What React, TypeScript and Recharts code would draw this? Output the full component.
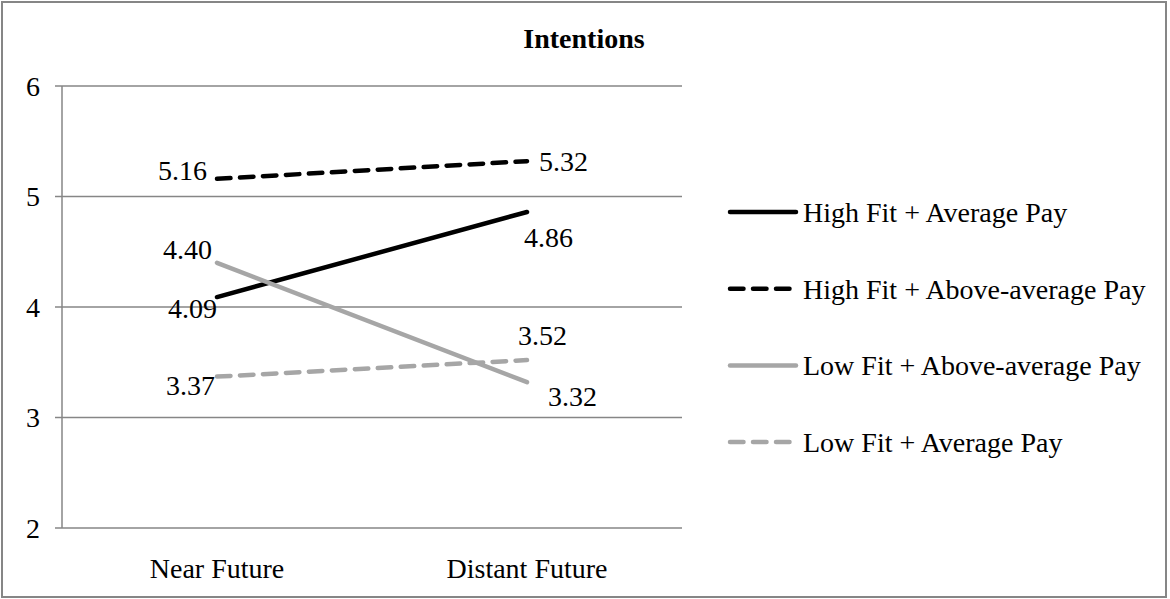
import React from "react";
import {
  LineChart,
  Line,
  XAxis,
  YAxis,
  CartesianGrid,
  Legend,
} from "recharts";

const periods = ["Near Future", "Distant Future"];
const highFitAveragePay = [4.09, 4.86];
const highFitAbovePay = [5.16, 5.32];
const lowFitAbovePay = [4.4, 3.32];
const lowFitAveragePay = [3.37, 3.52];
const yTicks = [2, 3, 4, 5, 6];
const edgeTicks = [0, 1, 2];

const FONT = "'Liberation Serif', 'Times New Roman', serif";
const GRID = "#868686";
const BLACK = "#000000";
const GREY = "#a6a6a6";
const DASH = "13.5 9.5";

type LabelPlace = { dx: number; dy: number; anchor: "start" | "end" };

const series: {
  key: string;
  name: string;
  values: number[];
  color: string;
  dash?: string;
  labels: LabelPlace[];
}[] = [
  {
    key: "highAvg",
    name: "High Fit + Average Pay",
    values: highFitAveragePay,
    color: BLACK,
    labels: [
      { dx: 0, dy: 21, anchor: "end" },
      { dx: -3, dy: 35, anchor: "start" },
    ],
  },
  {
    key: "highAbove",
    name: "High Fit + Above-average Pay",
    values: highFitAbovePay,
    color: BLACK,
    dash: DASH,
    labels: [
      { dx: -10, dy: 1, anchor: "end" },
      { dx: 12, dy: 10, anchor: "start" },
    ],
  },
  {
    key: "lowAbove",
    name: "Low Fit + Above-average Pay",
    values: lowFitAbovePay,
    color: GREY,
    labels: [
      { dx: -5, dy: -4, anchor: "end" },
      { dx: 21, dy: 24, anchor: "start" },
    ],
  },
  {
    key: "lowAvg",
    name: "Low Fit + Average Pay",
    values: lowFitAveragePay,
    color: GREY,
    dash: DASH,
    labels: [
      { dx: -2, dy: 18, anchor: "end" },
      { dx: -9, dy: -15, anchor: "start" },
    ],
  },
];

const data = periods.map((period, i) => {
  const row: Record<string, string | number> = { period };
  series.forEach((s) => (row[s.key] = s.values[i]));
  return row;
});

const makeLabel = (places: LabelPlace[]) => (props: any) => {
  const { x, y, value, index } = props;
  const p = places[index];
  if (p == null || value == null) return <g />;
  return (
    <text
      x={x + p.dx}
      y={y + p.dy}
      textAnchor={p.anchor}
      fontFamily={FONT}
      fontSize={28}
      fill="#000"
    >
      {Number(value).toFixed(2)}
    </text>
  );
};

const CategoryTick = (props: any) => {
  const { x, y, payload } = props;
  return (
    <text x={x} y={y + 42} textAnchor="middle" fontFamily={FONT} fontSize={28} fill="#000">
      {payload.value}
    </text>
  );
};

const NoTick = () => <g />;

const LegendBox = () => (
  <svg width={434} height={290} style={{ display: "block", overflow: "visible" }}>
    {series.map((s, i) => {
      const cy = 12 + i * 76.7;
      return (
        <g key={s.key}>
          <line
            x1={2}
            y1={cy}
            x2={68}
            y2={cy}
            stroke={s.color}
            strokeWidth={4.5}
            strokeDasharray={s.dash}
            strokeLinecap="round"
          />
          <text x={75} y={cy + 10} fontFamily={FONT} fontSize={28} fill="#000">
            {s.name}
          </text>
        </g>
      );
    })}
  </svg>
);

export default function App() {
  return (
    <div style={{ position: "absolute", left: 0, top: 0, width: 1170, height: 599, background: "#fff" }}>
      <LineChart
        width={1170}
        height={599}
        data={data}
        margin={{ top: 86, right: 488, bottom: 0, left: 0 }}
      >
        <CartesianGrid xAxisId="edge" vertical={false} stroke={GRID} strokeWidth={1.5} />
        <XAxis
          xAxisId="edge"
          type="number"
          domain={[0, 2]}
          ticks={edgeTicks}
          height={0}
          tickSize={6}
          tick={NoTick}
          stroke={GRID}
          strokeWidth={1.5}
        />
        <XAxis
          xAxisId="cat"
          dataKey="period"
          height={71}
          padding={{ left: 155, right: 155 }}
          axisLine={false}
          tickLine={false}
          tick={CategoryTick}
        />
        <YAxis
          domain={[2, 6]}
          ticks={yTicks}
          width={62}
          tickSize={7}
          tickMargin={15}
          stroke={GRID}
          strokeWidth={1.5}
          tick={{ fill: "#000", fontSize: 28, fontFamily: FONT }}
        />
        <Legend
          layout="vertical"
          align="center"
          verticalAlign="middle"
          content={LegendBox}
          wrapperStyle={{ left: 728, top: 200, width: 434 }}
        />
        {series.map((s) => (
          <Line
            key={s.key}
            xAxisId="cat"
            type="linear"
            dataKey={s.key}
            name={s.name}
            stroke={s.color}
            strokeWidth={4.5}
            strokeDasharray={s.dash}
            strokeLinecap="round"
            dot={false}
            activeDot={false}
            label={makeLabel(s.labels)}
            isAnimationActive={false}
          />
        ))}
      </LineChart>
      <svg
        width={1170}
        height={599}
        style={{ position: "absolute", left: 0, top: 0, pointerEvents: "none" }}
      >
        <rect x={2} y={2} width={1164} height={595} fill="none" stroke={GRID} strokeWidth={2} />
        <text x={584} y={48} textAnchor="middle" fontFamily={FONT} fontSize={28} fontWeight="bold" fill="#000">
          Intentions
        </text>
      </svg>
    </div>
  );
}
